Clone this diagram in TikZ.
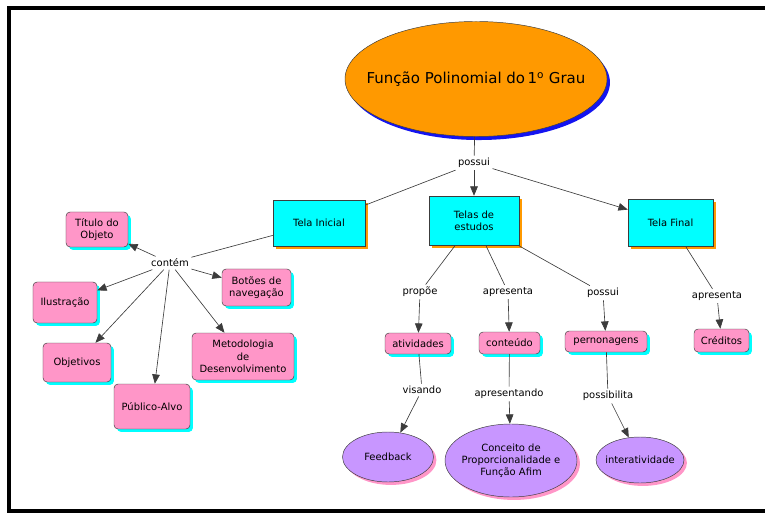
\documentclass[tikz,border=0pt]{standalone}
\usepackage{fontspec}
\setmainfont{DejaVu Sans}
\usetikzlibrary{arrows.meta,shapes.geometric,shadows}
\definecolor{laranja}{RGB}{255,153,0}
\definecolor{azul}{RGB}{20,20,240}
\definecolor{ciano}{RGB}{0,255,255}
\definecolor{rosa}{RGB}{255,150,200}
\definecolor{lilas}{RGB}{200,150,255}
\definecolor{borda}{RGB}{60,60,60}

\begin{document}
\begin{tikzpicture}[x=0.03cm, y=-0.03cm,
  font=\fontsize{8.5}{10.5}\selectfont,
  link/.style={draw=borda, line width=0.55pt},
  arr/.style={link, -{Triangle[length=8pt,width=6.5pt]}},
  lbl/.style={inner sep=2pt},
  tela/.style={draw=borda, fill=ciano, align=center, inner sep=1pt,
    general shadow={fill=laranja, shadow xshift=2.5pt, shadow yshift=-2.5pt}},
  item/.style={draw=borda, fill=rosa, align=center, inner sep=1pt,
    rounded corners=3.5pt,
    general shadow={fill=ciano, shadow xshift=2.5pt, shadow yshift=-2.5pt}},
  bolha/.style={ellipse, draw=borda, fill=lilas, align=center,
    inner xsep=-8pt, inner ysep=0pt,
    general shadow={fill=rosa, shadow xshift=2.5pt, shadow yshift=-2.5pt}}]
  \useasboundingbox (0,0) rectangle (765,514);
  \draw[line width=4pt] (770,8) -- (9,8) -- (9,511) -- (770,511);

  \node[ellipse, draw=borda, fill=laranja, inner xsep=-16pt, inner ysep=0pt,
    minimum width=7.86cm, minimum height=3.45cm,
    general shadow={fill=azul, shadow xshift=2.5pt, shadow yshift=-3pt},
    font=\fontsize{12.8}{15}\selectfont]
    (tema) at (476,79) {Função Polinomial do\,1\textsuperscript{o} Grau};
  \node[lbl] (possui) at (474,163) {possui};

  \node[tela, minimum width=2.76cm, minimum height=1.38cm] (inicial) at (319,223) {Tela Inicial};
  \node[tela, minimum width=2.7cm, minimum height=1.47cm] (estudos) at (474,220.5) {Telas de\\estudos};
  \node[tela, minimum width=2.55cm, minimum height=1.41cm] (final) at (670.5,222.5) {Tela Final};

  \node[lbl] (contem) at (170,263) {contém};
  \node[item, minimum width=1.86cm, minimum height=1.05cm] (objeto) at (97,229.5) {Título do\\Objeto};
  \node[item, minimum width=2.07cm, minimum height=1.11cm] (botoes) at (256.5,287.5) {Botões de\\navegação};
  \node[item, minimum width=1.92cm, minimum height=1.23cm] (ilustracao) at (65,302.5) {Ilustração};
  \node[item, minimum width=2.04cm, minimum height=1.17cm] (objetivos) at (77,362.5) {Objetivos};
  \node[item, minimum width=2.28cm, minimum height=1.35cm] (publico) at (152,406.5) {Público-Alvo};
  \node[item, minimum width=3.06cm, minimum height=1.41cm] (metodologia) at (243,356.5) {Metodologia\\de\\Desenvolvimento};

  \node[lbl] (propoe) at (420,292) {propõe};
  \node[lbl] (apresenta) at (508,292) {apresenta};
  \node[lbl] (possuiB) at (603,293) {possui};
  \node[lbl] (apresentaB) at (717,296) {apresenta};

  \node[item, minimum width=1.98cm, minimum height=0.63cm] (atividades) at (418,343.5) {atividades};
  \node[item, minimum width=1.83cm, minimum height=0.66cm] (conteudo) at (509.5,343) {conteúdo};
  \node[item, minimum width=2.46cm, minimum height=0.63cm] (personagens) at (606,341.5) {pernonagens};
  \node[item, minimum width=1.65cm, minimum height=0.69cm] (creditos) at (721.5,340.5) {Créditos};

  \node[lbl] (visando) at (422,390) {visando};
  \node[lbl] (apresentando) at (509,394) {apresentando};
  \node[lbl] (possibilita) at (608,396) {possibilita};

  \node[bolha, minimum width=2.73cm, minimum height=1.5cm] (feedback) at (388,457) {Feedback};
  \node[bolha, minimum width=3.96cm, minimum height=2.19cm] (conceito) at (511,460.5) {Conceito de\\Proporcionalidade e\\Função Afim};
  \node[bolha, minimum width=2.64cm, minimum height=1.38cm] (interatividade) at (640,460) {interatividade};

  \draw[link] (tema) -- (possui);
  \draw[link] (possui) -- (inicial);
  \draw[arr] (possui) -- (estudos);
  \draw[arr] (possui) -- (final);

  \draw[link] (inicial) -- (contem);
  \draw[arr] (contem) -- (objeto);
  \draw[arr] (contem) -- (botoes);
  \draw[arr] (contem) -- (ilustracao);
  \draw[arr] (contem) -- (objetivos);
  \draw[arr] (contem) -- (publico);
  \draw[arr] (contem) -- (metodologia);

  \draw[link] (estudos) -- (propoe);
  \draw[link] (estudos) -- (apresenta);
  \draw[link] (estudos) -- (possuiB);
  \draw[link] (final) -- (apresentaB);
  \draw[arr] (propoe) -- (atividades);
  \draw[arr] (apresenta) -- (conteudo);
  \draw[arr] (possuiB) -- (personagens);
  \draw[arr] (apresentaB) -- (creditos);

  \draw[link] (atividades) -- (visando);
  \draw[link] (conteudo) -- (apresentando);
  \draw[link] (personagens) -- (possibilita);
  \draw[arr] (visando) -- (feedback);
  \draw[arr] (apresentando) -- (conceito);
  \draw[arr] (possibilita) -- (interatividade);
\end{tikzpicture}
\end{document}
